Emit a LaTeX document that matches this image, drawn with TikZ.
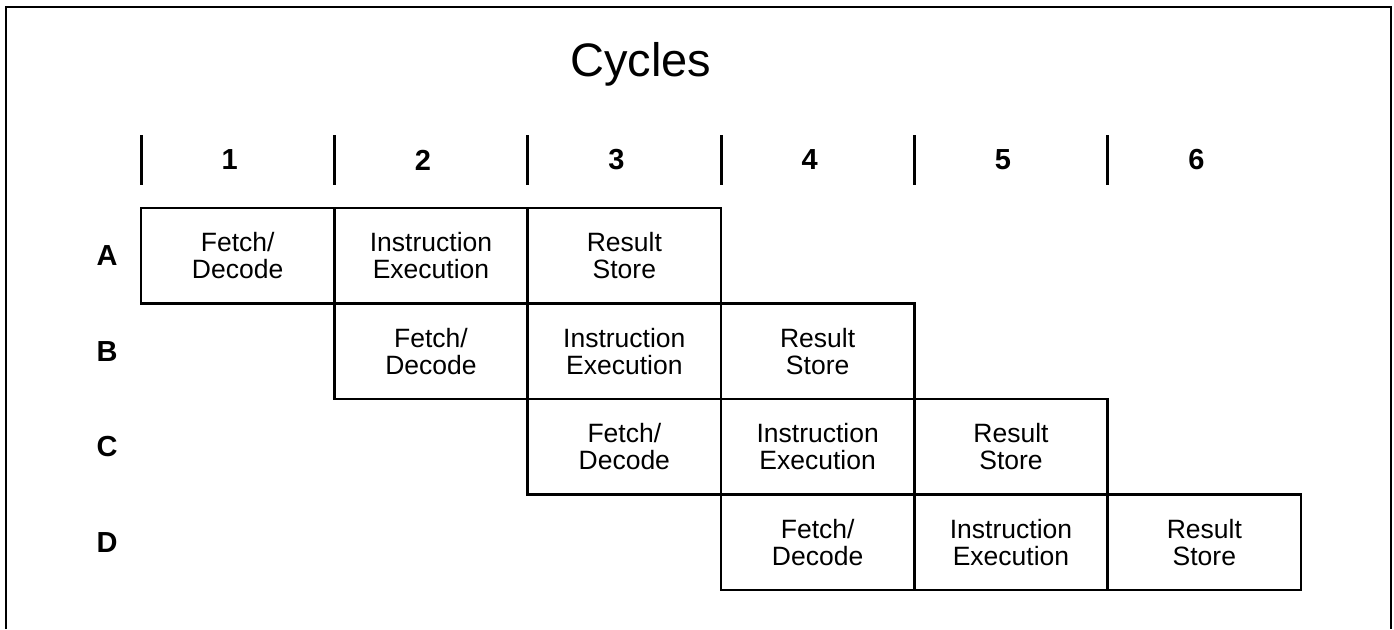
\documentclass[tikz,border=0pt]{standalone}
\usepackage{fontspec}
\setmainfont{Liberation Sans}
\begin{document}
\begin{tikzpicture}[x=1pt,y=-1pt,
  stagecell/.style={draw, line width=2.8pt, minimum width=193.33pt, minimum height=95.5pt,
    inner sep=0pt, align=center, font=\fontsize{26.5}{27}\selectfont},
  cyclenum/.style={font=\bfseries\fontsize{29}{29}\selectfont, inner sep=0pt},
  rowlabel/.style={font=\bfseries\fontsize{29}{29}\selectfont, inner sep=0pt},
  tick/.style={line width=3pt},
  frame/.style={line width=1.4pt}]
\useasboundingbox (0,0) rectangle (1394,629);
% open frame
\draw[frame] (6,629) |- (1391,7) -- (1391,629);
% title
\node[font=\fontsize{47}{47}\selectfont, anchor=base, inner sep=0pt] (title) at (641,76) {Cycles};
% cycle ticks and numbers
\foreach \k in {0,...,5} {
  \draw[tick] ({141+193.33*\k},135) -- ({141+193.33*\k},185);
  \pgfmathtruncatemacro{\n}{\k+1}
  \node[cyclenum] (n\n) at ({141+193.33*(\k+0.5)-8},160) {\n};
}
% instruction rows
\foreach \r/\lab in {0/A,1/B,2/C,3/D} {
  \node[rowlabel] (l\lab) at (107,{208+95.5*(\r+0.5)}) {\lab};
  \foreach \s/\txt in {0/{Fetch/\\Decode},1/{Instruction\\Execution},2/{Result\\Store}} {
    \node[stagecell] (c\lab\s) at ({141+193.33*(\r+\s+0.5)},{208+95.5*(\r+0.5)}) {\txt};
  }
}
\end{tikzpicture}
\end{document}
